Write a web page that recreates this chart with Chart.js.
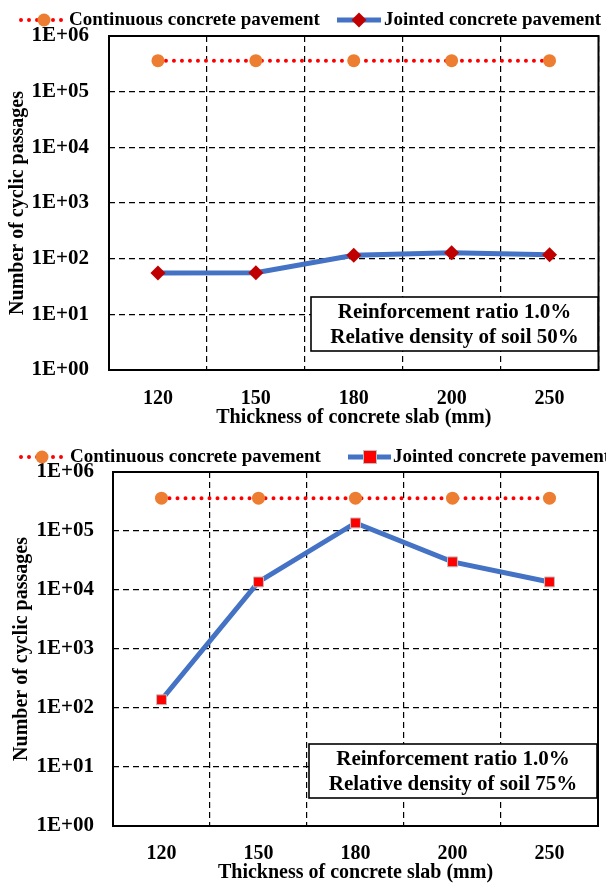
<!DOCTYPE html>
<html>
<head>
<meta charset="utf-8">
<script src="https://cdn.jsdelivr.net/npm/chart.js@4.4.0/dist/chart.umd.min.js"></script>
<style>
  html, body { margin: 0; padding: 0; background: #fff; }
  canvas { display: block; }
</style>
</head>
<body>
<canvas id="chart50" width="606" height="440"></canvas>
<canvas id="chart75" width="606" height="445"></canvas>
<script>
// ---------- Data ----------
const thickness    = ['120', '150', '180', '200', '250'];
const yTickValues  = [1, 10, 100, 1000, 10000, 100000, 1000000];
const continuous50 = [360000, 360000, 360000, 360000, 360000];
const jointed50    = [55, 56, 115, 128, 118];
const continuous75 = [360000, 360000, 360000, 360000, 360000];
const jointed75    = [138, 13700, 137000, 30000, 13700];
const seriesNames  = ['Continuous concrete pavement', 'Jointed concrete pavement'];
const note50 = ['Reinforcement ratio 1.0%', 'Relative density of soil 50%'];
const note75 = ['Reinforcement ratio 1.0%', 'Relative density of soil 75%'];

const FONT = '"Liberation Serif", "Times New Roman", serif';
const BLUE = '#4472C4';
const ORANGE = '#ED7D31';

// ---------- Helpers ----------
function sci(v) {
  const e = Math.round(Math.log10(v));
  return '1E+' + String(e).padStart(2, '0');
}

// frame, note box and custom legend
const decorPlugin = {
  id: 'decor',
  beforeDatasetsDraw(chart) {
    const { ctx, chartArea: a } = chart;
    ctx.save();
    ctx.strokeStyle = '#000';
    ctx.lineWidth = 2;
    ctx.strokeRect(a.left, a.top, a.right - a.left, a.bottom - a.top);
    ctx.restore();
  },
  afterDatasetsDraw(chart, args, opts) {
    const { ctx } = chart;
    const b = opts.box;
    ctx.save();
    ctx.fillStyle = '#fff';
    ctx.fillRect(b.x, b.y, b.w, b.h);
    ctx.strokeStyle = '#000';
    ctx.lineWidth = 1.6;
    ctx.strokeRect(b.x, b.y, b.w, b.h);
    ctx.fillStyle = '#000';
    ctx.font = 'bold 21px ' + FONT;
    ctx.textAlign = 'center';
    ctx.textBaseline = 'middle';
    opts.lines.forEach((t, i) => ctx.fillText(t, b.x + b.w / 2, b.y + 16 + i * 24.5));
    ctx.restore();
  },
  afterDraw(chart, args, opts) {
    const { ctx } = chart;
    const L = opts.legend;
    const y = L.y;
    ctx.save();
    // continuous: red dots + orange circle
    ctx.strokeStyle = '#FF0000';
    ctx.lineWidth = 4;
    ctx.lineCap = 'round';
    ctx.setLineDash([0, 8]);
    ctx.beginPath();
    ctx.moveTo(L.c0, y);
    ctx.lineTo(L.c1, y);
    ctx.stroke();
    ctx.setLineDash([]);
    ctx.fillStyle = ORANGE;
    ctx.beginPath();
    ctx.arc(L.cm, y, 6.5, 0, Math.PI * 2);
    ctx.fill();
    // jointed: blue line + marker
    ctx.strokeStyle = BLUE;
    ctx.lineWidth = 5;
    ctx.lineCap = 'butt';
    ctx.beginPath();
    ctx.moveTo(L.j0, y);
    ctx.lineTo(L.j1, y);
    ctx.stroke();
    if (L.marker === 'diamond') {
      ctx.fillStyle = '#C00000';
      ctx.beginPath();
      ctx.moveTo(L.jm, y - 7.5);
      ctx.lineTo(L.jm + 7.5, y);
      ctx.lineTo(L.jm, y + 7.5);
      ctx.lineTo(L.jm - 7.5, y);
      ctx.closePath();
      ctx.fill();
    } else {
      ctx.fillStyle = '#FF0000';
      ctx.fillRect(L.jm - 6.5, y - 6.5, 13, 13);
      ctx.strokeStyle = '#BFBFBF';
      ctx.lineWidth = 1;
      ctx.strokeRect(L.jm - 6.5, y - 6.5, 13, 13);
    }
    ctx.fillStyle = '#000';
    ctx.font = 'bold 19px ' + FONT;
    ctx.textAlign = 'left';
    ctx.textBaseline = 'middle';
    ctx.fillText(seriesNames[0], L.ct, y);
    ctx.fillText(seriesNames[1], L.jt, y);
    ctx.restore();
  }
};

function makeChart(id, continuous, jointed, layout) {
  const jointedPoint = layout.legend.marker === 'diamond'
    ? { pointStyle: 'rectRot', pointRadius: 7.5, pointBackgroundColor: '#C00000', pointBorderColor: '#C00000', pointBorderWidth: 0 }
    : { pointStyle: 'rect', pointRadius: 7, pointBackgroundColor: '#FF0000', pointBorderColor: '#BFBFBF', pointBorderWidth: 1 };

  return new Chart(document.getElementById(id), {
    type: 'line',
    data: {
      labels: thickness,
      datasets: [
        {
          label: seriesNames[1],
          data: jointed,
          borderColor: BLUE,
          borderWidth: 5,
          tension: 0,
          ...jointedPoint,
          pointHoverRadius: 7
        },
        {
          label: seriesNames[0],
          data: continuous,
          borderColor: '#FF0000',
          borderWidth: 4,
          borderDash: [0, 8],
          borderCapStyle: 'round',
          pointStyle: 'circle',
          pointRadius: 6.5,
          pointBackgroundColor: ORANGE,
          pointBorderColor: ORANGE,
          pointBorderWidth: 0
        }
      ]
    },
    options: {
      responsive: false,
      animation: false,
      layout: { padding: { top: layout.top, right: layout.right, left: 0, bottom: 0 } },
      plugins: {
        legend: { display: false },
        tooltip: { enabled: false },
        decor: { box: layout.box, lines: layout.lines, legend: layout.legend }
      },
      scales: {
        x: {
          type: 'category',
          offset: true,
          grid: { offset: true, color: '#000', lineWidth: 1.2, drawTicks: false },
          border: { display: false, dash: [6, 4] },
          ticks: { color: '#000', padding: layout.xTickPad, font: { family: FONT, size: 20, weight: 'bold' } },
          title: {
            display: true, text: 'Thickness of concrete slab (mm)', color: '#000',
            padding: { top: 0, bottom: layout.xTitlePad },
            font: { family: FONT, size: 20, weight: 'bold', lineHeight: 1.2 }
          },
          afterFit: s => { s.height = layout.xHeight; }
        },
        y: {
          type: 'logarithmic',
          min: 1,
          max: 1000000,
          grid: { color: '#000', lineWidth: 1.2, drawTicks: false },
          border: { display: false, dash: [6, 4] },
          afterBuildTicks: s => { s.ticks = yTickValues.map(v => ({ value: v })); },
          ticks: {
            color: '#000', padding: layout.yTickPad,
            font: { family: FONT, size: 21, weight: 'bold' },
            callback: v => sci(v)
          },
          title: {
            display: true, text: 'Number of cyclic passages', color: '#000',
            padding: { top: layout.yTitlePad, bottom: 0 },
            font: { family: FONT, size: 20, weight: 'bold', lineHeight: 1.2 }
          },
          afterFit: s => { s.width = layout.yWidth; }
        }
      }
    },
    plugins: [decorPlugin]
  });
}

makeChart('chart50', continuous50, jointed50, {
  top: 36, right: 4, yWidth: 109, xHeight: 70,
  xTickPad: 17, xTitlePad: 10, yTickPad: 20, yTitlePad: 6,
  box: { x: 311, y: 297, w: 287, h: 54 },
  lines: note50,
  legend: { y: 20, c0: 21, c1: 63, cm: 44, ct: 69, j0: 337, j1: 381, jm: 359, jt: 384, marker: 'diamond' }
});

makeChart('chart75', continuous75, jointed75, {
  top: 32, right: 6, yWidth: 113, xHeight: 59,
  xTickPad: 16, xTitlePad: 0, yTickPad: 19, yTitlePad: 10,
  box: { x: 309, y: 304, w: 288, h: 54 },
  lines: note75,
  legend: { y: 17, c0: 21, c1: 63, cm: 42, ct: 70, j0: 348, j1: 391, jm: 370, jt: 393, marker: 'square' }
});
</script>
</body>
</html>
